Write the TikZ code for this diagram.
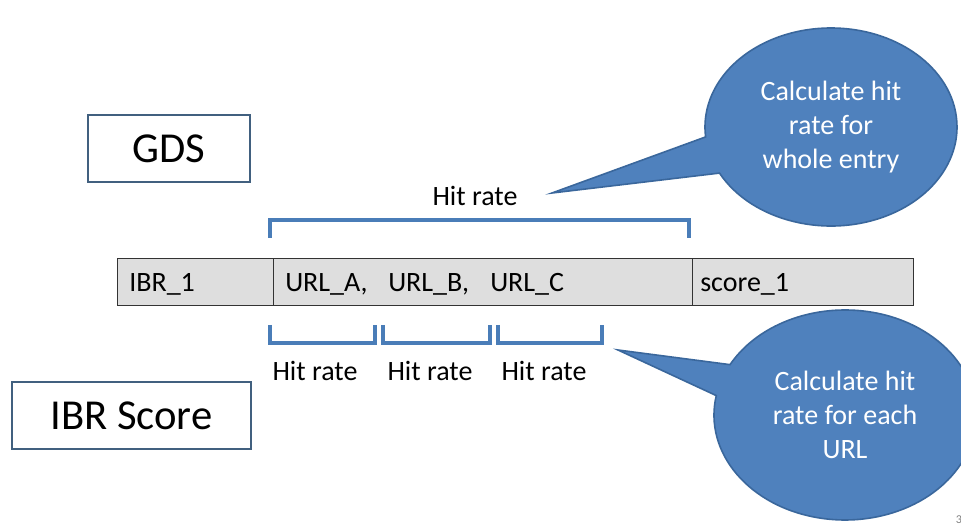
\documentclass[tikz,border=0pt]{standalone}
\usepackage{fontspec}
\setmainfont{Carlito}
\usetikzlibrary{shapes.callouts}
\definecolor{officeblue}{HTML}{4F81BD}
\definecolor{calloutedge}{HTML}{3A679C}
\definecolor{boxedge}{HTML}{41607F}
\definecolor{cellfill}{HTML}{DEDEDE}
\definecolor{celledge}{HTML}{333333}
\definecolor{bracketblue}{HTML}{4A7DB8}
\begin{document}
\begin{tikzpicture}[x=0.75pt,y=-0.75pt,
  titlebox/.style={draw=boxedge,line width=1.6pt,fill=white,inner sep=0pt,
    font=\fontsize{32}{38}\selectfont},
  cell/.style={draw=celledge,line width=0.9pt,fill=cellfill,inner sep=0pt,
    minimum height=47*0.75pt,anchor=north west},
  celltext/.style={font=\fontsize{21}{25}\selectfont,anchor=base west,inner sep=0pt},
  ratelabel/.style={font=\fontsize{21}{25}\selectfont,anchor=base,inner sep=0pt},
  bracket/.style={draw=bracketblue,line width=2.3pt},
  bubble/.style={ellipse callout,fill=officeblue,draw=calloutedge,line width=1.2pt,
    inner sep=0pt,text=white,align=center,font=\fontsize{21}{25.5}\selectfont}
]
\useasboundingbox (0,0) rectangle (961,527);

% title boxes
\node[titlebox,minimum width=162*0.75pt,minimum height=67*0.75pt] (gds) at (169,148.5) {GDS};
\node[titlebox,minimum width=239*0.75pt,minimum height=67*0.75pt] (ibr) at (131.5,415.5) {IBR Score};

% the record row
\node[cell,minimum width=156*0.75pt] (c1) at (117,258) {};
\node[cell,minimum width=419*0.75pt] (c2) at (273,258) {};
\node[cell,minimum width=221*0.75pt] (c3) at (692,258) {};
\node[celltext] (t1) at (129,292) {IBR\_1};
\node[celltext] (ua) at (285,292) {URL\_A,};
\node[celltext] (ub) at (388,292) {URL\_B,};
\node[celltext] (uc) at (490,292) {URL\_C};
\node[celltext] (t3) at (700,292) {score\_1};

% bracket over the URL list
\coordinate (tl) at (270,238);
\coordinate (tr) at (689,238);
\draw[bracket] (tl) -- ++(0,-18) -| (tr);
\node[ratelabel] (hr) at (475,206) {Hit rate};

% brackets under each URL
\draw[bracket] (270,325) -- (270,343) -- (375,343) -- (375,325);
\draw[bracket] (383,325) -- (383,343) -- (490,343) -- (490,325);
\draw[bracket] (498,325) -- (498,343) -- (602,343) -- (602,325);
\node[ratelabel] (hra) at (315,381) {Hit rate};
\node[ratelabel] (hrb) at (430,381) {Hit rate};
\node[ratelabel] (hrc) at (544,381) {Hit rate};

% callouts
\coordinate (tip1) at (552,193);
\coordinate (tip2) at (618,350);
\node[bubble,minimum width=252*0.75pt,minimum height=198*0.75pt,
  callout absolute pointer=(tip1),callout pointer arc=22] (b1) at (831,127)
  {Calculate hit\\rate for\\whole entry};
\node[bubble,minimum width=262*0.75pt,minimum height=210*0.75pt,
  callout absolute pointer=(tip2),callout pointer arc=18] (b2) at (845,415)
  {Calculate hit\\rate for each\\URL};

% page number at the corner
\node[font=\fontsize{9}{10}\selectfont,text=gray,inner sep=0pt] (pg) at (959,520) {3};
\end{tikzpicture}
\end{document}
